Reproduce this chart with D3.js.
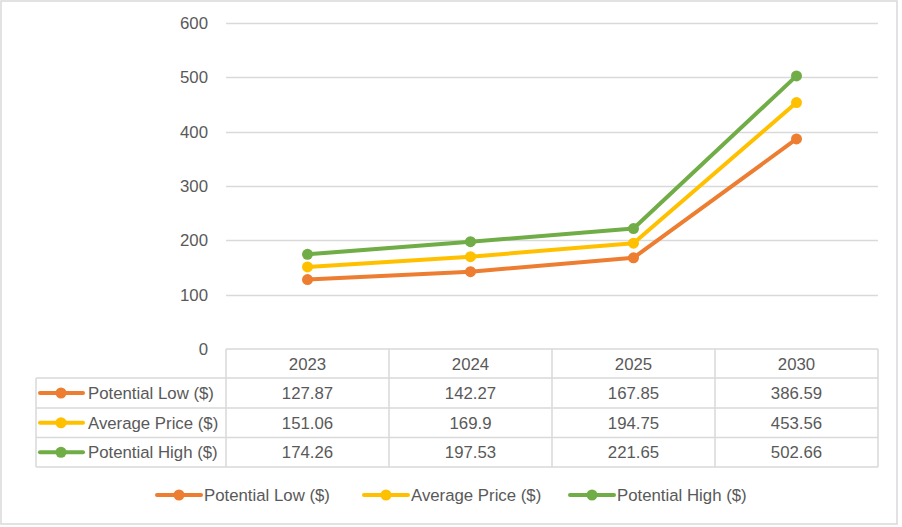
<!DOCTYPE html>
<html><head><meta charset="utf-8">
<script src="https://cdn.jsdelivr.net/npm/d3@7"></script>
<style>body{margin:0;background:#fff}svg{display:block}</style>
</head><body>
<svg id="c" width="902" height="527"></svg>
<script>
const categories = ["2023", "2024", "2025", "2030"];
const seriesNames = ["Potential Low ($)", "Average Price ($)", "Potential High ($)"];
const seriesColors = ["#ED7D31", "#FFC000", "#70AD47"];
const potentialLow = [127.87, 142.27, 167.85, 386.59];
const averagePrice = [151.06, 169.9, 194.75, 453.56];
const potentialHigh = [174.26, 197.53, 221.65, 502.66];
const yTicks = [0, 100, 200, 300, 400, 500, 600];

(function () {
const series = [potentialLow, averagePrice, potentialHigh];
const font = "'Liberation Sans', Arial, sans-serif";
const fs = 16.8;
const txt = "#595959", grid = "#d9d9d9";

const svg = d3.select("#c");
svg.append("rect").attr("x", 1).attr("y", 1).attr("width", 896).attr("height", 523)
  .attr("fill", "#fff").attr("stroke", grid).attr("stroke-width", 1.5);

const pLeft = 226, pRight = 878, pTop = 23, pBottom = 349;
const x = d3.scaleBand().domain(categories).range([pLeft, pRight]);
const y = d3.scaleLinear().domain([0, 600]).range([pBottom, pTop]);

// gridlines
svg.append("g").selectAll("line").data(yTicks.filter(d => d > 0)).join("line")
  .attr("x1", pLeft).attr("x2", pRight)
  .attr("y1", d => Math.round(y(d)) + 0.5).attr("y2", d => Math.round(y(d)) + 0.5)
  .attr("stroke", grid).attr("stroke-width", 1.3);

// y axis labels
const yAxis = d3.axisLeft(y).tickValues(yTicks).tickSize(0).tickPadding(18);
const ga = svg.append("g").attr("transform", `translate(${pLeft},0)`).call(yAxis);
ga.select(".domain").remove();
ga.selectAll("text").attr("font-family", font).attr("font-size", fs).attr("fill", txt);

// data table
const rowY = [349, 378, 408, 437.5, 467];
const tableLeft = 36;
const tg = svg.append("g");
rowY.forEach((ry, i) => {
  tg.append("line").attr("x1", i === 0 ? pLeft : tableLeft).attr("x2", pRight)
    .attr("y1", ry).attr("y2", ry).attr("stroke", grid).attr("stroke-width", 1.5);
});
const colX = categories.map(c => x(c)).concat([pRight]);
colX.forEach(cx => {
  tg.append("line").attr("x1", cx).attr("x2", cx).attr("y1", rowY[0]).attr("y2", rowY[4])
    .attr("stroke", grid).attr("stroke-width", 1.5);
});
tg.append("line").attr("x1", tableLeft).attr("x2", tableLeft).attr("y1", rowY[1]).attr("y2", rowY[4])
  .attr("stroke", grid).attr("stroke-width", 1.5);
tg.selectAll("text.h").data(categories).join("text").attr("class", "h")
  .attr("x", d => x(d) + x.bandwidth() / 2).attr("y", (rowY[0] + rowY[1]) / 2 + 6)
  .attr("text-anchor", "middle").attr("font-family", font).attr("font-size", fs).attr("fill", txt)
  .text(d => d);
series.forEach((vals, si) => {
  const cy = (rowY[si + 1] + rowY[si + 2]) / 2;
  tg.selectAll(null).data(vals).join("text")
    .attr("x", (d, i) => x(categories[i]) + x.bandwidth() / 2).attr("y", cy + 6)
    .attr("text-anchor", "middle").attr("font-family", font).attr("font-size", fs).attr("fill", txt)
    .text(d => String(d));
  tg.append("line").attr("x1", 40).attr("x2", 83).attr("y1", cy).attr("y2", cy)
    .attr("stroke", seriesColors[si]).attr("stroke-width", 4).attr("stroke-linecap", "round");
  tg.append("circle").attr("cx", 61).attr("cy", cy).attr("r", 5.5).attr("fill", seriesColors[si]);
  tg.append("text").attr("x", 88).attr("y", cy + 6).attr("font-family", font).attr("font-size", fs)
    .attr("fill", txt).text(seriesNames[si]);
});

// lines
const line = d3.line().x((d, i) => x(categories[i]) + x.bandwidth() / 2).y(d => y(d));
series.forEach((vals, si) => {
  svg.append("path").datum(vals).attr("d", line).attr("fill", "none")
    .attr("stroke", seriesColors[si]).attr("stroke-width", 4).attr("stroke-linejoin", "round")
    .attr("stroke-linecap", "round");
  svg.append("g").selectAll("circle").data(vals).join("circle")
    .attr("cx", (d, i) => x(categories[i]) + x.bandwidth() / 2).attr("cy", d => y(d))
    .attr("r", 5.5).attr("fill", seriesColors[si]);
});

// legend
const legX = [157, 364, 570];
const legY = 495;
const lg = svg.append("g");
seriesNames.forEach((n, i) => {
  lg.append("line").attr("x1", legX[i]).attr("x2", legX[i] + 44).attr("y1", legY).attr("y2", legY)
    .attr("stroke", seriesColors[i]).attr("stroke-width", 4).attr("stroke-linecap", "round");
  lg.append("circle").attr("cx", legX[i] + 22).attr("cy", legY).attr("r", 5.5).attr("fill", seriesColors[i]);
  lg.append("text").attr("x", legX[i] + 47).attr("y", legY + 6).attr("font-family", font)
    .attr("font-size", fs).attr("fill", txt).text(n);
});
})();
</script>
</body></html>
